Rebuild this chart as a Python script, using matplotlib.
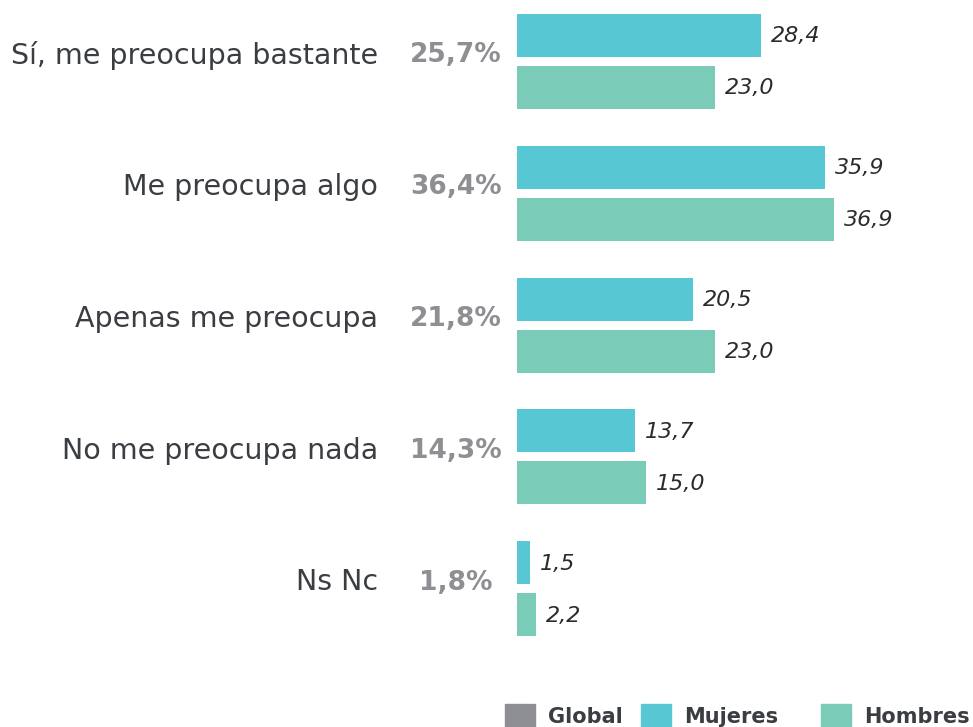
import matplotlib
matplotlib.use('Agg')
import matplotlib.pyplot as plt
from matplotlib.patches import Patch

# data
categorias = ['Sí, me preocupa bastante', 'Me preocupa algo', 'Apenas me preocupa',
              'No me preocupa nada', 'Ns Nc']
global_pct = [25.7, 36.4, 21.8, 14.3, 1.8]
mujeres = [28.4, 35.9, 20.5, 13.7, 1.5]
hombres = [23.0, 36.9, 23.0, 15.0, 2.2]
series = ['Global', 'Mujeres', 'Hombres']

c_global = '#8e8f93'
c_muj = '#57c7d4'
c_hom = '#7acbb7'
c_txt = '#3a3d42'
fam = 'DejaVu Sans'

W, H = 973, 727
fig = plt.figure(figsize=(W / 100, H / 100), dpi=100)

# axes placed so bars start at x=517 px
top_px, bot_px = 0, 660
ax = fig.add_axes([517 / W, (H - bot_px) / H, (W - 517) / W, (bot_px - top_px) / H])
px_per_unit = 8.59
step = 131.75
ax.set_xlim(0, (W - 517) / px_per_unit)
ax.set_ylim((bot_px - 61.5) / step, -61.5 / step)
ax.axis('off')

h = 43 / step
off = 26 / step
y = list(range(len(categorias)))
ax.barh([i - off for i in y], mujeres, height=h, color=c_muj)
ax.barh([i + off for i in y], hombres, height=h, color=c_hom)

def fmt(v):
    return ('%.1f' % v).replace('.', ',')

up = 6 / step
for i in y:
    ax.text(mujeres[i] + 10 / px_per_unit, i - off + 1 / step, fmt(mujeres[i]), ha='left',
            va='center', fontsize=16, style='italic', color='#2b2b2b', family=fam)
    ax.text(hombres[i] + 10 / px_per_unit, i + off + 1 / step, fmt(hombres[i]), ha='left',
            va='center', fontsize=16, style='italic', color='#2b2b2b', family=fam)
    ax.text((456 - 517) / px_per_unit, i - up, fmt(global_pct[i]) + '%', ha='center', va='center',
            fontsize=19, weight='bold', color=c_global, family=fam, clip_on=False)
    ax.text((378 - 517) / px_per_unit, i - up, categorias[i], ha='right', va='center',
            fontsize=20.5, color=c_txt, family=fam, clip_on=False)

# legend: one entry per block, placed like the reference
colores = [c_global, c_muj, c_hom]
leg_x = [505, 641, 821]
for s, c, lx in zip(series, colores, leg_x):
    leg = fig.legend(handles=[Patch(color=c, label=s)], loc='center left',
                     bbox_to_anchor=(lx / W, (H - 716) / H), frameon=False,
                     borderpad=0, borderaxespad=0, handlelength=1.45, handleheight=1.45,
                     handletextpad=0.6, prop={'family': fam, 'weight': 'bold', 'size': 15})
    for t in leg.get_texts():
        t.set_color(c_txt)

plt.savefig('out.png', dpi=100)
